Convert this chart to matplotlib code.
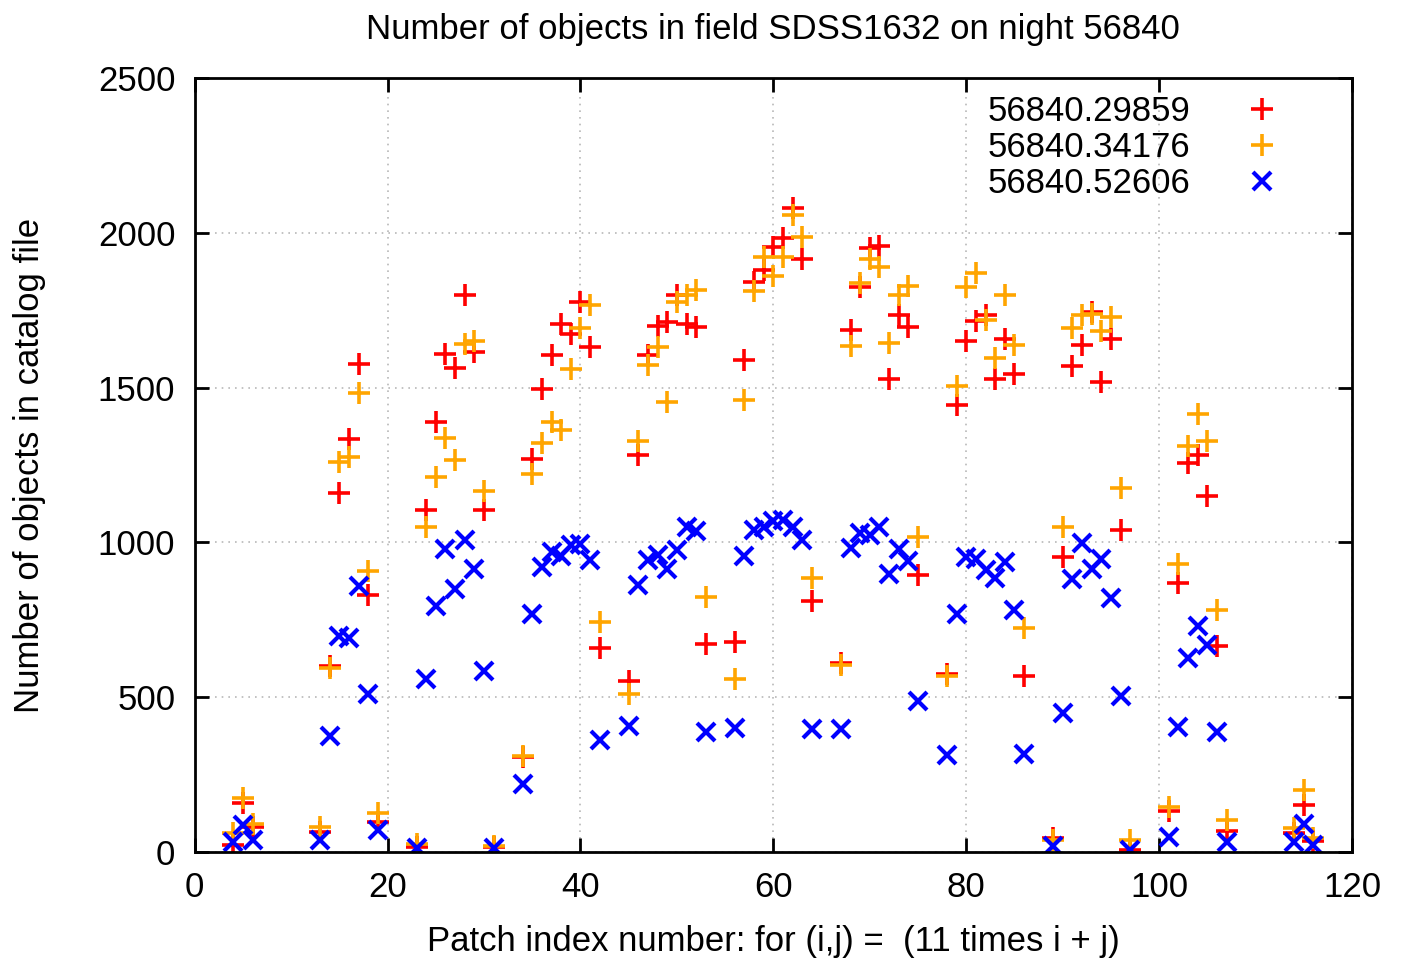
import numpy as np
import matplotlib
matplotlib.use('Agg')
import matplotlib.pyplot as plt

# patch index = 11*i + j
patch = ([4, 5, 6] + list(range(13, 20)) + list(range(23, 32)) + list(range(34, 43))
         + list(range(45, 54)) + list(range(56, 65)) + list(range(67, 76))
         + list(range(78, 87)) + list(range(89, 98)) + list(range(101, 108))
         + [114, 115, 116])

n_29859 = [22, 157, 80,
           65, 600, 1160, 1333, 1575, 830, 98,
           15, 1105, 1390, 1610, 1565, 1800, 1615, 1105, 15,
           306, 1270, 1497, 1607, 1705, 1673, 1778, 1632, 658,
           552, 1282, 1607, 1700, 1712, 1800, 1707, 1696, 672,
           679, 1588, 1841, 1881, 1954, 1982, 2080, 1916, 812,
           609, 1687, 1825, 1950, 1958, 1529, 1735, 1695, 894,
           574, 1445, 1649, 1715, 1733, 1529, 1656, 1543, 567,
           45, 953, 1569, 1639, 1745, 1518, 1656, 1040, 8,
           133, 868, 1257, 1283, 1151, 665, 69,
           60, 152, 35]

n_34176 = [60, 173, 92,
           82, 595, 1260, 1275, 1484, 908, 125,
           25, 1050, 1210, 1337, 1266, 1640, 1650, 1165, 20,
           310, 1220, 1321, 1389, 1364, 1560, 1691, 1768, 742,
           510, 1326, 1572, 1631, 1452, 1778, 1800, 1815, 824,
           559, 1459, 1811, 1923, 1860, 1923, 2057, 1986, 886,
           605, 1635, 1839, 1916, 1891, 1645, 1800, 1827, 1016,
           567, 1504, 1825, 1870, 1719, 1597, 1799, 1638, 724,
           40, 1049, 1691, 1733, 1737, 1684, 1729, 1175, 39,
           145, 929, 1313, 1416, 1326, 783, 105,
           76, 200, 44]

n_52606 = [33, 87, 40,
           39, 375, 697, 690, 858, 510, 71,
           12, 560, 796, 980, 850, 1007, 915, 585, 12,
           219, 770, 921, 970, 956, 991, 995, 942, 363,
           408, 862, 942, 960, 914, 974, 1051, 1037, 388,
           401, 956, 1040, 1051, 1068, 1072, 1051, 1009, 398,
           398, 981, 1030, 1023, 1051, 897, 978, 939, 489,
           313, 770, 953, 947, 911, 886, 936, 782, 318,
           20, 450, 883, 998, 914, 947, 820, 503, 8,
           49, 405, 627, 729, 670, 389, 33,
           33, 92, 23]


def main():
    plt.rcParams['font.family'] = ['Liberation Sans', 'DejaVu Sans']
    fig = plt.figure(figsize=(14.01, 9.61), dpi=100)
    ax = fig.add_axes([0.139, 0.1134, 0.826, 0.8054])

    fs = 25
    ms = 16
    mew = 2.6
    ax.plot(patch, n_29859, ls='none', marker='+', ms=ms, mew=mew, color='#ff0000',
            label='56840.29859')
    ax.plot(patch, n_34176, ls='none', marker='+', ms=ms, mew=mew, color='#ffa500',
            label='56840.34176')
    ax.plot(patch, n_52606, ls='none', marker='x', ms=ms * 0.85, mew=mew + 0.4, color='#0000ff',
            label='56840.52606')

    ax.set_xlim(0, 120)
    ax.set_ylim(0, 2500)
    ax.set_xticks(range(0, 121, 20))
    ax.set_yticks(range(0, 2501, 500))
    ax.grid(True, color='#b8b8b8', ls=(0, (1, 3)), lw=1.2)
    ax.tick_params(direction='in', length=10, width=2, labelsize=fs, pad=14,
                   top=True, right=True)
    for s in ax.spines.values():
        s.set_linewidth(2)

    ax.set_title('Number of objects in field SDSS1632 on night 56840', fontsize=fs, pad=28)
    ax.set_xlabel('Patch index number: for (i,j) =  (11 times i + j)', fontsize=fs, labelpad=15)
    ax.set_ylabel('Number of objects in catalog file', fontsize=fs, labelpad=37)

    ax.legend(loc='upper right', bbox_to_anchor=(0.957, 0.996), frameon=False,
              markerfirst=False, fontsize=fs, handletextpad=1.33, labelspacing=0.09,
              borderaxespad=0, handlelength=1.5)

    fig.savefig('out.png', dpi=100)


if __name__ == '__main__':
    main()
